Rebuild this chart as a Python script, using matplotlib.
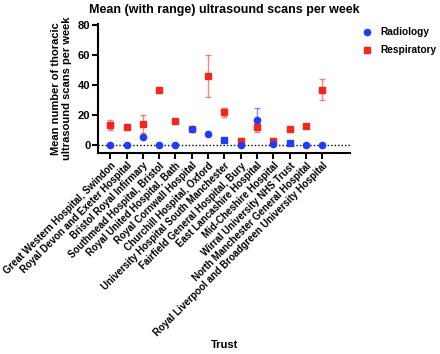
import numpy as np
import matplotlib
matplotlib.use('Agg')
import matplotlib.pyplot as plt

plt.rcParams['font.family'] = ['Liberation Sans', 'DejaVu Sans']
plt.rcParams['font.weight'] = 'bold'

# Datos
trusts = [
    'Great Western Hospital, Swindon',
    'Royal Devon and Exeter Hospital',
    'Bristol Royal Infirmary',
    'Southmead Hospital, Bristol',
    'Royal United Hospital, Bath',
    'Royal Cornwall Hospital',
    'Churchill Hospital, Oxford',
    'University Hospital South Manchester',
    'Fairfield General Hospital, Bury',
    'East Lancashire Hospital',
    'Mid-Cheshire Hospital',
    'Wirral University NHS Trust',
    'North Manchester General Hospital',
    'Royal Liverpool and Broadgreen University Hospital',
]

radio_mean = [0, 0, 5.5, 0, 0, 11, 7.5, 3.5, 0, 17, 0.5, 1.5, 0, 0]
radio_low = [0, 0, 5.5, 0, 0, 11, 7.5, 3.5, 0, 17, 0.5, 1.5, 0, 0]
radio_high = [0, 0, 5.5, 0, 0, 11, 7.5, 3.5, 0, 25, 0.5, 1.5, 0, 0]
radio_marker = ['o', 'o', 'o', 'o', 'o', 'o', 'o', 's', 'o', 'o', 'o', 's', 'o', 'o']

resp_mean = [13.5, 12, 14, 37, 16, 11, 46, 22, 2.5, 12, 2.5, 10.5, 12.5, 37]
resp_low = [10, 11, 8, 37, 16, 10, 32, 19, 2.5, 9, 2.5, 10.5, 12.5, 30]
resp_high = [17, 13, 20, 37, 16, 12, 60, 25, 2.5, 15, 2.5, 10.5, 12.5, 44]

azul = '#1f3cf7'
rojo = '#f7261b'

fig = plt.figure(figsize=(4.4, 3.54), dpi=100)
ax = fig.add_axes([0.2227, 0.568, 0.5727, 0.364])

x = np.arange(len(trusts))

ax.axhline(0, color='black', linestyle=(0, (1, 1.5)), linewidth=1.0, zorder=1)

# Respiratorio (cuadrados rojos)
r_mean = np.array(resp_mean)
r_err = [r_mean - np.array(resp_low), np.array(resp_high) - r_mean]
ax.errorbar(x, r_mean, yerr=r_err, fmt='none', ecolor=rojo, alpha=0.55,
            elinewidth=1.0, capsize=2.5, capthick=1.0, zorder=2)
ax.plot(x, r_mean, 's', color=rojo, markersize=4.7, linestyle='none', zorder=3,
        label='Respiratory')

# Radiologia (circulos azules)
b_mean = np.array(radio_mean)
b_err = [b_mean - np.array(radio_low), np.array(radio_high) - b_mean]
ax.errorbar(x, b_mean, yerr=b_err, fmt='none', ecolor=azul, alpha=0.55,
            elinewidth=1.0, capsize=2.5, capthick=1.0, zorder=2)
for xi, yi, m in zip(x, b_mean, radio_marker):
    ax.plot(xi, yi, m, color=azul, markersize=4.5 if m == 'o' else 4.7, zorder=4)
ax.plot([], [], 'o', color=azul, markersize=4.5, label='Radiology')

ax.set_xlim(-0.75, 14.7)
ax.set_ylim(-5.3, 80.7)
ax.set_yticks([0, 20, 40, 60, 80])
ax.set_xticks(x)
ax.set_xticklabels(trusts, rotation=45, ha='right', rotation_mode='anchor',
                   fontsize=7, fontweight='bold')
for lab in ax.get_yticklabels():
    lab.set_fontsize(8)
    lab.set_fontweight('bold')

for s in ['top', 'right']:
    ax.spines[s].set_visible(False)
for s in ['left', 'bottom']:
    ax.spines[s].set_linewidth(1.5)
ax.tick_params(axis='both', direction='out', width=1.5, length=4, pad=1.5)

ax.set_ylabel('Mean number of thoracic\nultrasound scans per week',
              fontsize=8, fontweight='bold', labelpad=4)
ax.set_title('Mean (with range) ultrasound scans per week',
             fontsize=9, fontweight='bold', pad=8)

handles, labels = ax.get_legend_handles_labels()
ax.legend(handles[::-1], labels[::-1], loc='upper left', bbox_to_anchor=(1.02, 1.03),
          frameon=False, fontsize=7.3, handletextpad=0.8, labelspacing=0.8,
          handlelength=1.0, borderaxespad=0.3)

fig.text(0.51, 0.025, 'Trust', ha='center', va='center', fontsize=8, fontweight='bold')

fig.savefig('out.png', dpi=100)
